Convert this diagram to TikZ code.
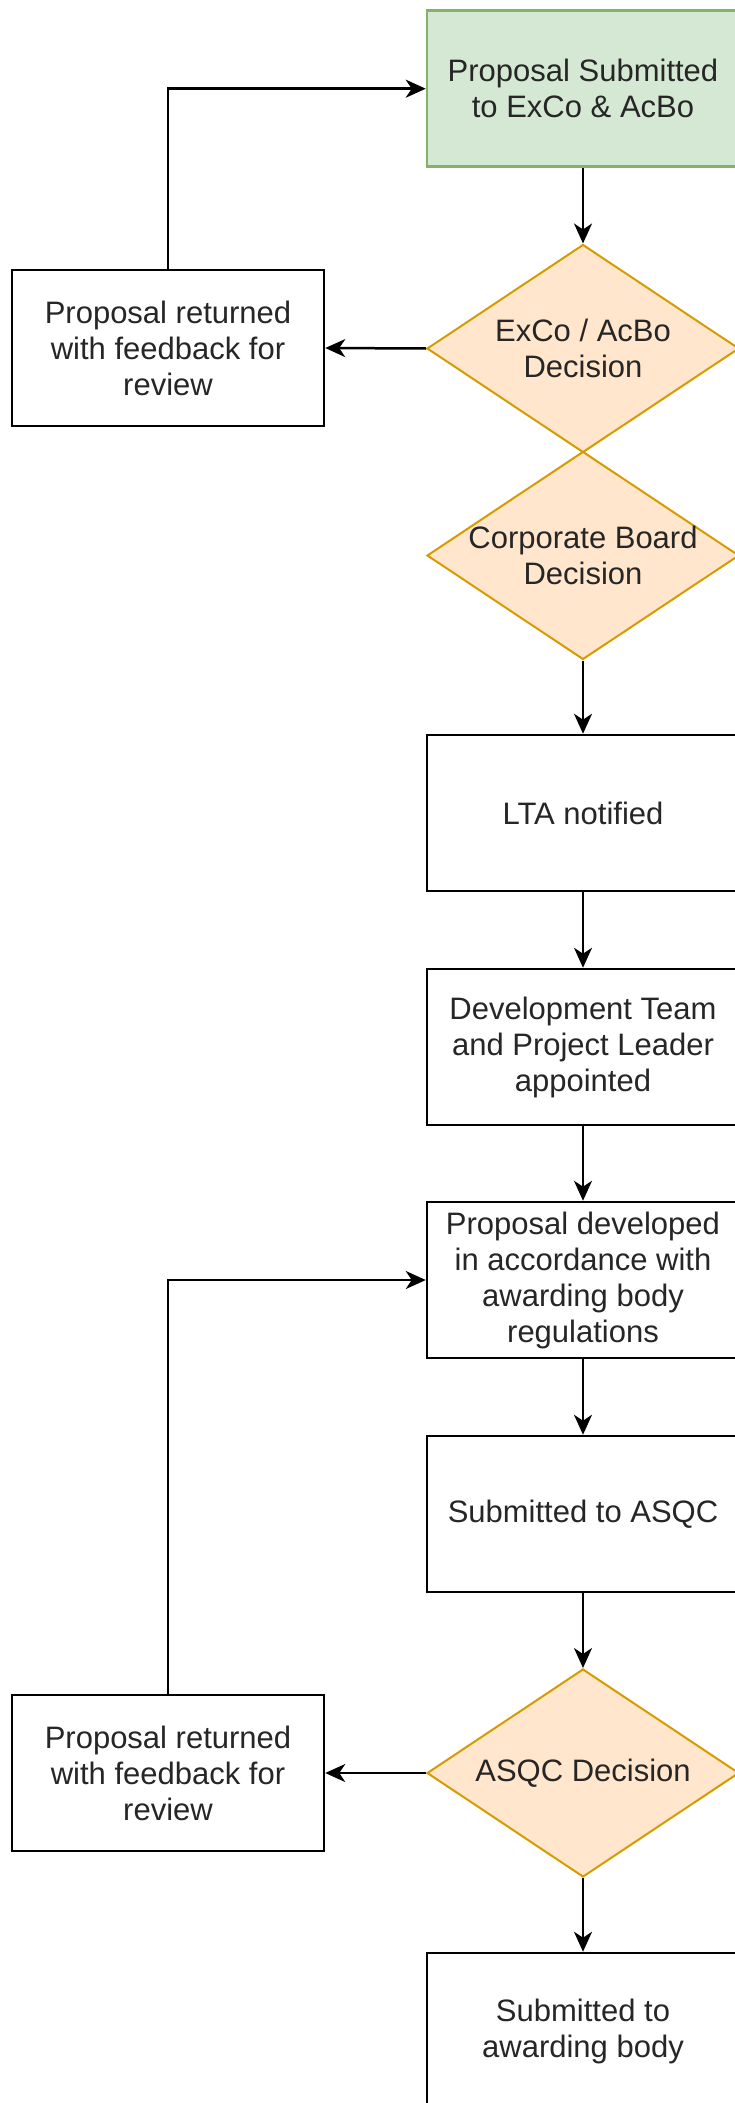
\documentclass[tikz,border=0pt]{standalone}
\usepackage{fontspec}
\setmainfont{Liberation Sans}
\usetikzlibrary{shapes.geometric,arrows.meta}
\definecolor{gfill}{HTML}{D5E8D4}
\definecolor{gline}{HTML}{82B366}
\definecolor{ofill}{HTML}{FFE6CC}
\definecolor{oline}{HTML}{D79B00}
\tikzset{
  lbl/.style={font=\fontsize{31}{36}\selectfont, align=center, text=black!85},
  box/.style={lbl, draw=black, line width=2.5pt, fill=white, rectangle, minimum width=312pt, minimum height=156pt, inner sep=0pt},
  startbox/.style={box, draw=gline, fill=gfill},
  decision/.style={diamond, draw=oline, fill=ofill, line width=2pt, minimum width=312pt, minimum height=208pt, inner sep=0pt},
  arr/.style={line width=2.5pt, -{Stealth[length=20pt,width=18pt,inset=6pt]}},
}
\begin{document}
\begin{tikzpicture}[x=1pt,y=-1pt]
\useasboundingbox (0,0) rectangle (734,2103);
\fill[white] (0,0) rectangle (734,2103);
% nodes
\node[startbox] (s1) at (583,88.7) {Proposal Submitted\\to ExCo \& AcBo};
\node[box] (r1) at (168,348) {Proposal returned\\with feedback for\\review};
\node[decision] (d1) at (583,348.5) {};
\node[lbl] (d1t) at (d1.center) {ExCo / AcBo\\Decision};
\node[decision] (d2) at (583,555.5) {};
\node[lbl] (d2t) at (d2.center) {Corporate Board\\Decision};
\node[box] (lta) at (583,813) {LTA notified};
\node[box] (dev) at (583,1047) {Development Team\\and Project Leader\\appointed};
\node[box] (pd) at (583,1280) {Proposal developed\\in accordance with\\awarding body\\regulations};
\node[box] (asqc) at (583,1514) {Submitted to ASQC};
\node[decision] (d3) at (583,1773) {};
\node[lbl] (d3t) at (d3.center) {ASQC Decision};
\node[box] (r2) at (168,1773) {Proposal returned\\with feedback for\\review};
\node[box] (ab) at (583,2031) {Submitted to\\awarding body};
% connectors
\draw[arr] (s1.south) -- (d1.north);
\draw[arr] (d1.west) -- (r1.east);
\draw[arr] (r1.north) |- (s1.west);
\draw[arr] (d2.south) -- (lta.north);
\draw[arr] (lta.south) -- (dev.north);
\draw[arr] (dev.south) -- (pd.north);
\draw[arr] (pd.south) -- (asqc.north);
\draw[arr] (asqc.south) -- (d3.north);
\draw[arr] (d3.west) -- (r2.east);
\draw[arr] (r2.north) |- (pd.west);
\draw[arr] (d3.south) -- (ab.north);
\end{tikzpicture}
\end{document}
